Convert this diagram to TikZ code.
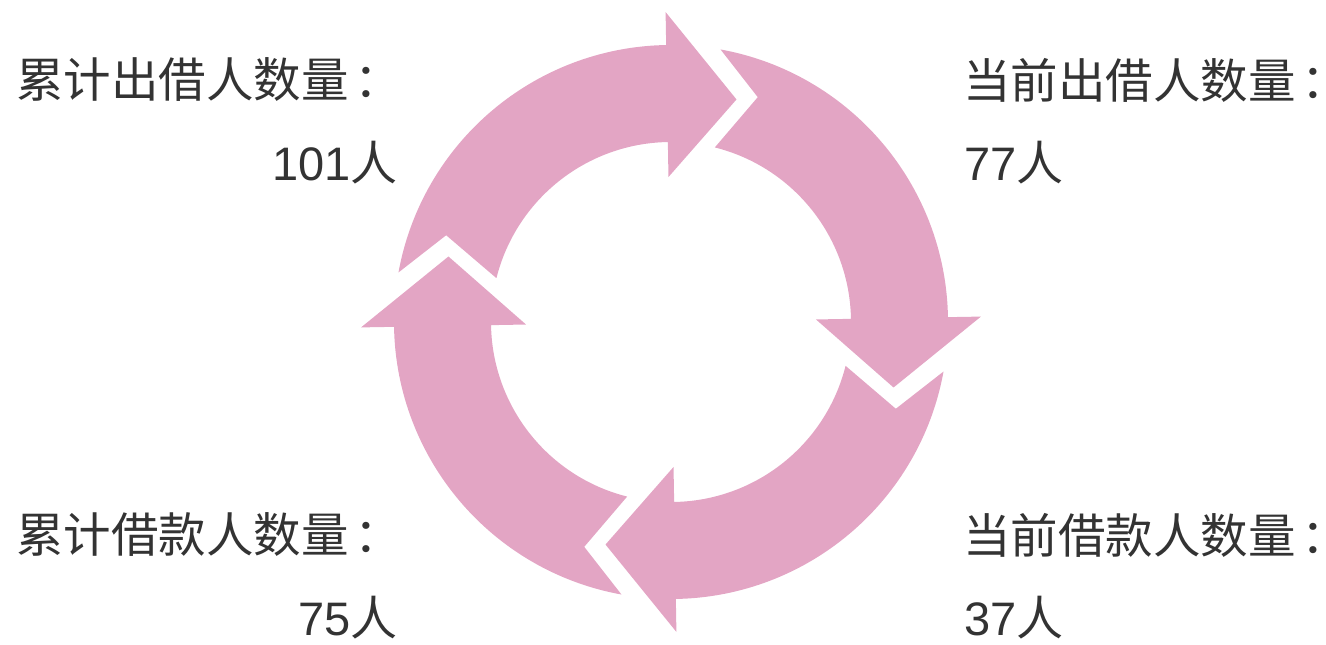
\documentclass[tikz,border=0pt]{standalone}
\usepackage{fontspec}
\setmainfont{Noto Sans CJK SC}
\newfontfamily\numfont{Liberation Sans}
\definecolor{ringpink}{RGB}{227,165,196}
\definecolor{txtgray}{RGB}{51,51,51}
\newcommand{\cjkcolon}{\kern0.12em\makebox[0.35em][l]{：}}
\begin{document}
\begin{tikzpicture}[
  arrowfill/.style={fill=ringpink},
  lbl/.style={inner sep=0pt, text=txtgray, font=\fontsize{47.5}{54}\selectfont},
  num/.style={inner sep=0pt, text=txtgray, font=\fontsize{47}{54}\selectfont}
]
\useasboundingbox (0,0) rectangle (1326pt,645pt);
\begin{scope}[shift={(671pt,323pt)}]
\foreach \p in {90,0,-90,180}{
  \fill[arrowfill] (\p+79.7:277pt) arc[start angle=\p+79.7, end angle=\p+1, radius=277pt]
    -- (\p+1:310pt) -- (\p-16.4:232pt) -- (\p+1:145pt) -- (\p+1:180pt)
    arc[start angle=\p+1, end angle=\p+75.9, radius=180pt]
    -- (\p+68.9:241pt) -- cycle;
}
\end{scope}
\node[lbl, anchor=west] (tl) at (16pt,565pt) {累计出借人数量\cjkcolon};
\node[num, anchor=east] (tlv) at (398pt,482pt) {{\numfont 101}人};
\node[lbl, anchor=west] (tr) at (963pt,565pt) {当前出借人数量\cjkcolon};
\node[num, anchor=west] (trv) at (964pt,482pt) {{\numfont 77}人};
\node[lbl, anchor=west] (bl) at (16pt,110pt) {累计借款人数量\cjkcolon};
\node[num, anchor=east] (blv) at (398pt,27pt) {{\numfont 75}人};
\node[lbl, anchor=west] (br) at (963pt,110pt) {当前借款人数量\cjkcolon};
\node[num, anchor=west] (brv) at (964pt,27pt) {{\numfont 37}人};
\end{tikzpicture}
\end{document}
